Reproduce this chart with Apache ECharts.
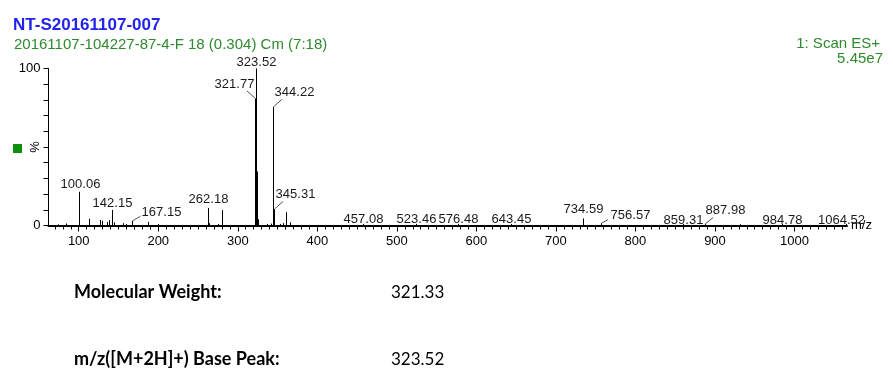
<!DOCTYPE html>
<html>
<head>
<meta charset="utf-8">
<script src="https://cdn.jsdelivr.net/npm/echarts@6/dist/echarts.min.js"></script>
<style>
html,body{margin:0;padding:0;background:#fff;}
#chart{width:893px;height:388px;}
</style>
</head>
<body>
<div id="chart"></div>
<script>
// ---- data ----
const peakMz = [74, 84, 100.06, 113.4, 127.2, 129.7, 135.2, 137.7, 142.15, 144.4, 156, 159.5, 167.15, 187.7, 200,
  262.18, 264, 275.6, 280.3, 321.77, 323.52, 324.55, 325.6, 337, 341.5, 344.22, 345.31, 353, 357.4, 360.8, 365.8,
  457.08, 523.46, 576.48, 643.45, 734.59, 756.57, 859.31, 887.98, 931.5, 984.78, 1064.52];
const peakInt = [0.8, 1.3, 21.5, 4.3, 3.5, 3, 2.3, 3.4, 9.9, 2, 1.5, 1, 3, 2.3, 1,
  11.2, 1.5, 1, 9.8, 80.9, 100, 34.4, 4, 1, 1.2, 75.6, 10.5, 1, 1.5, 8.5, 2,
  1, 1, 1, 1, 4.5, 1.5, 1, 1.2, 0.8, 1, 1];
const labelMz = [100.06, 142.15, 167.15, 262.18, 321.77, 323.52, 344.22, 345.31, 457.08, 523.46, 576.48, 643.45,
  734.59, 756.57, 859.31, 887.98, 984.78, 1064.52];
const xTickLabels = [100, 200, 300, 400, 500, 600, 700, 800, 900, 1000];
const xMinorTicks = [70, 80, 90, 110, 120, 130, 140, 150, 160, 170, 180, 190, 210, 220, 230, 240, 250, 260, 270, 280, 290,
  310, 320, 330, 340, 350, 360, 370, 380, 390, 410, 420, 430, 440, 450, 460, 470, 480, 490,
  510, 520, 530, 540, 550, 560, 570, 580, 590, 610, 620, 630, 640, 650, 660, 670, 680, 690,
  710, 720, 730, 740, 750, 760, 770, 780, 790, 810, 820, 830, 840, 850, 860, 870, 880, 890,
  910, 920, 930, 940, 950, 960, 970, 980, 990, 1010, 1020, 1030, 1040, 1050, 1060];
const yTickLabels = [0, 100];
const titleText = 'NT-S20161107-007';
const subTitleText = '20161107-104227-87-4-F 18 (0.304) Cm (7:18)';
const scanText = '1: Scan ES+';
const scaleText = '5.45e7';
const infoLabels = ['Molecular Weight:', 'm/z([M+2H]+) Base Peak:'];
const infoValues = ['321.33', '323.52'];

// ---- label layout (style: pixel offsets of each label from its peak top) ----
const labelOffsets = [
  [1, -7], [0, -7], [29, -8], [0, -8], [-21, -14], [0, -6], [21, -14], [21, -15],
  [0, -5], [0, -5], [0, -5], [0, -5], [0, -9], [29, -7.5], [0, -3.5], [20, -13], [0, -4], [-5, -4]
];
const leaderEnds = [null, null, [8, -4.5], null, [-8.5, -7.5], null, [8.5, -7.5], [8.5, -7.5],
  null, null, null, null, null, [6.5, -3.5], null, [7.5, -6], null, null];

const FONT = '"Liberation Sans", Arial, sans-serif';
const INFO_FONT = 'Lato, "Open Sans", sans-serif';
function intensityOf(m) { return peakInt[peakMz.indexOf(m)]; }

const chart = echarts.init(document.getElementById('chart'), null, {renderer: 'canvas'});
const option = {
  animation: false,
  backgroundColor: '#fff',
  grid: {left: 48.5, right: 46, top: 68.5, bottom: 162.5, containLabel: false, outerBoundsMode: 'none'},
  xAxis: [{
    type: 'value', min: 62, max: 1066, position: 'bottom',
    name: 'm/z', nameLocation: 'end', nameGap: 4, nameMoveOverlap: false,
    nameTextStyle: {color: '#000', fontSize: 13, fontFamily: FONT, verticalAlign: 'middle'},
    axisLine: {show: true, lineStyle: {color: '#000', width: 2}},
    axisTick: {show: true, customValues: xMinorTicks, length: 4, lineStyle: {color: '#000'}},
    axisLabel: {show: true, customValues: xTickLabels, margin: 9, color: '#000', fontSize: 13, fontFamily: FONT,
      formatter: v => String(v)},
    splitLine: {show: false}
  }, {
    type: 'value', min: 62, max: 1066, position: 'bottom',
    axisLine: {show: false},
    axisTick: {show: true, customValues: xTickLabels, length: 6, lineStyle: {color: '#000'}},
    axisLabel: {show: false},
    splitLine: {show: false}
  }],
  yAxis: {
    type: 'value', min: 0, max: 100, interval: 10,
    name: '%', nameLocation: 'middle', nameGap: 7, nameRotate: 90, nameMoveOverlap: false,
    nameTextStyle: {color: '#000', fontSize: 13, fontFamily: FONT},
    axisLine: {show: true, lineStyle: {color: '#000', width: 1}},
    axisTick: {show: true, length: 5, lineStyle: {color: '#000'}},
    axisLabel: {margin: 8, color: '#000', fontSize: 13, fontFamily: FONT,
      formatter: v => (yTickLabels.indexOf(v) >= 0 ? String(v) : '')},
    splitLine: {show: false}
  },
  series: [{
    type: 'custom', coordinateSystem: 'cartesian2d', xAxisIndex: 0,
    data: peakMz.map((m, i) => [m, peakInt[i]]),
    renderItem: function (params, api) {
      const p0 = api.coord([api.value(0), 0]);
      const p1 = api.coord([api.value(0), api.value(1)]);
      const x = Math.round(p0[0]) + 0.5;
      return {type: 'line', shape: {x1: x, y1: p0[1], x2: x, y2: p1[1]},
        style: {stroke: '#000', lineWidth: 1}};
    }
  }, {
    type: 'custom', coordinateSystem: 'cartesian2d', xAxisIndex: 0, clip: false,
    data: labelMz.map((m, i) => [m, intensityOf(m), i]),
    renderItem: function (params, api) {
      const i = api.value(2);
      const p = api.coord([api.value(0), api.value(1)]);
      const px = Math.round(p[0]) + 0.5;
      const off = labelOffsets[i];
      const children = [{
        type: 'text', x: px + off[0], y: p[1] + off[1],
        style: {text: labelMz[i].toFixed(2), fill: '#1a1a1a', font: '13px ' + FONT,
          align: 'center', verticalAlign: 'middle'}
      }];
      const le = leaderEnds[i];
      if (le) {
        children.push({type: 'line', shape: {x1: px, y1: p[1], x2: px + le[0], y2: p[1] + le[1]},
          style: {stroke: '#555', lineWidth: 1}});
      }
      return {type: 'group', children: children};
    }
  }],
  graphic: [
    {type: 'text', left: 13, top: 17, style: {text: titleText, fill: '#2323ee',
      font: 'bold 17px ' + FONT}},
    {type: 'text', left: 14, top: 37, style: {text: subTitleText, fill: '#2d8a2d',
      font: '15px ' + FONT}},
    {type: 'text', right: 13, top: 36, style: {text: scanText, fill: '#2d8a2d',
      font: '15px ' + FONT}},
    {type: 'text', right: 10, top: 51, style: {text: scaleText, fill: '#2d8a2d',
      font: '15px ' + FONT}},
    {type: 'rect', left: 13, top: 144, shape: {width: 9, height: 9}, style: {fill: '#0c900c'}},
    {type: 'text', left: 74, top: 283, style: {text: infoLabels[0], fill: '#000',
      font: 'bold 18px ' + INFO_FONT}},
    {type: 'text', left: 391, top: 284, style: {text: infoValues[0], fill: '#000',
      font: '17px ' + INFO_FONT}},
    {type: 'text', left: 74, top: 350, style: {text: infoLabels[1], fill: '#000',
      font: 'bold 18px ' + INFO_FONT}},
    {type: 'text', left: 391, top: 351, style: {text: infoValues[1], fill: '#000',
      font: '17px ' + INFO_FONT}}
  ]
};
chart.setOption(option);
</script>
</body>
</html>
